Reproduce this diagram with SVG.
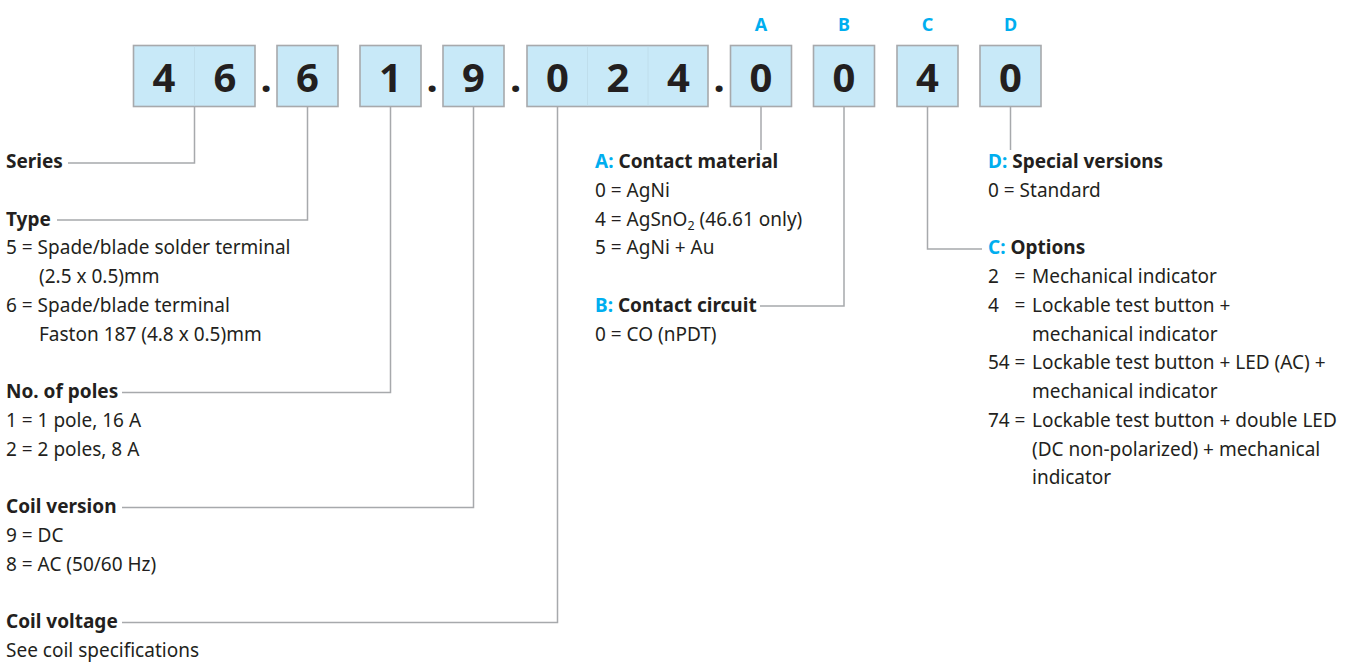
<svg xmlns="http://www.w3.org/2000/svg" width="1358" height="666" viewBox="0 0 1358 666">
<style>
.box{fill:#c8e9f8;stroke:#a7a9ac;stroke-width:1.6}
.div{stroke:#bcdbe8;stroke-width:0.8}
.dig{font-family:"Noto Sans","Open Sans",sans-serif;font-weight:700;font-size:40px;fill:#231f20;text-anchor:middle}
.dot{font-family:"Noto Sans","Open Sans",sans-serif;font-weight:700;font-size:40px;fill:#231f20;text-anchor:middle}
.let{font-family:"Noto Sans","Open Sans",sans-serif;font-weight:700;font-size:18px;fill:#00aeef;text-anchor:middle}
.h{font-family:"Noto Sans","Open Sans",sans-serif;font-weight:700;font-size:19px;fill:#231f20}
.t{font-family:"Noto Sans","Open Sans",sans-serif;font-size:19px;fill:#231f20}
.b{fill:#00aeef}
.con{fill:none;stroke:#a7a9ac;stroke-width:1.5}
</style>
<rect width="1358" height="666" fill="#ffffff"/>
<g id="code">
<g id="box-46"><rect class="box" x="133.5" y="45.5" width="121.5" height="61"/><line class="div" x1="194.5" y1="46.5" x2="194.5" y2="105.5"/><text class="dig" x="164" y="92">4</text><text class="dig" x="225" y="92">6</text></g>
<text class="dot" x="266" y="92">.</text>
<g id="box-6"><rect class="box" x="277" y="45.5" width="61" height="61"/><text class="dig" x="307.5" y="92">6</text></g>
<g id="box-1"><rect class="box" x="360" y="45.5" width="61" height="61"/><text class="dig" x="390.5" y="92">1</text></g>
<text class="dot" x="432" y="92">.</text>
<g id="box-9"><rect class="box" x="443" y="45.5" width="61" height="61"/><text class="dig" x="473.5" y="92">9</text></g>
<text class="dot" x="515.5" y="92">.</text>
<g id="box-024"><rect class="box" x="527" y="45.5" width="181" height="61"/><line class="div" x1="587.5" y1="46.5" x2="587.5" y2="105.5"/><line class="div" x1="648" y1="46.5" x2="648" y2="105.5"/><text class="dig" x="557.5" y="92">0</text><text class="dig" x="618" y="92">2</text><text class="dig" x="678.5" y="92">4</text></g>
<text class="dot" x="719" y="92">.</text>
<g id="box-A"><rect class="box" x="730.5" y="45.5" width="61" height="61"/><text class="dig" x="761" y="92">0</text><text class="let" x="761" y="31">A</text></g>
<g id="box-B"><rect class="box" x="813.5" y="45.5" width="61" height="61"/><text class="dig" x="844" y="92">0</text><text class="let" x="844" y="31">B</text></g>
<g id="box-C"><rect class="box" x="897" y="45.5" width="61" height="61"/><text class="dig" x="927.5" y="92">4</text><text class="let" x="927.5" y="31">C</text></g>
<g id="box-D"><rect class="box" x="980" y="45.5" width="61" height="61"/><text class="dig" x="1010.5" y="92">0</text><text class="let" x="1010.5" y="31">D</text></g>
</g>
<g id="connectors">
<polyline class="con" points="194.5,106.5 194.5,163 68,163"/>
<polyline class="con" points="307.5,106.5 307.5,220 57,220"/>
<polyline class="con" points="390.5,106.5 390.5,392.5 122,392.5"/>
<polyline class="con" points="473.5,106.5 473.5,507.5 122,507.5"/>
<polyline class="con" points="557.5,106.5 557.5,622.5 122,622.5"/>
<polyline class="con" points="761,106.5 761,150"/>
<polyline class="con" points="844,106.5 844,306 760,306"/>
<polyline class="con" points="927.5,106.5 927.5,249 982,249"/>
<polyline class="con" points="1010.5,106.5 1010.5,150"/>
</g>
<g id="series"><text class="h" x="6" y="168">Series</text></g>
<g id="type">
<text class="h" x="6" y="225.5">Type</text>
<text class="t" x="6" y="254.25">5 = Spade/blade solder terminal</text>
<text class="t" x="39" y="283">(2.5 x 0.5)mm</text>
<text class="t" x="6" y="311.75">6 = Spade/blade terminal</text>
<text class="t" x="39" y="340.5">Faston 187 (4.8 x 0.5)mm</text>
</g>
<g id="poles">
<text class="h" x="6" y="398">No. of poles</text>
<text class="t" x="6" y="426.75">1 = 1 pole, 16 A</text>
<text class="t" x="6" y="455.5">2 = 2 poles, 8 A</text>
</g>
<g id="coil-version">
<text class="h" x="6" y="513">Coil version</text>
<text class="t" x="6" y="541.75">9 = DC</text>
<text class="t" x="6" y="570.5">8 = AC (50/60 Hz)</text>
</g>
<g id="coil-voltage">
<text class="h" x="6" y="628">Coil voltage</text>
<text class="t" x="6" y="656.75">See coil specifications</text>
</g>
<g id="contact-material">
<text class="h" x="595" y="168"><tspan class="b">A:</tspan> Contact material</text>
<text class="t" x="595" y="196.75">0 = AgNi</text>
<text class="t" x="595" y="225.5">4 = AgSnO<tspan font-size="12.5" dy="4">2</tspan><tspan dy="-4"> (46.61 only)</tspan></text>
<text class="t" x="595" y="254.25">5 = AgNi + Au</text>
</g>
<g id="contact-circuit">
<text class="h" x="595" y="311.75"><tspan class="b">B:</tspan> Contact circuit</text>
<text class="t" x="595" y="340.5">0 = CO (nPDT)</text>
</g>
<g id="special-versions">
<text class="h" x="988" y="168"><tspan class="b">D:</tspan> Special versions</text>
<text class="t" x="988" y="196.75">0 = Standard</text>
</g>
<g id="options">
<text class="h" x="988" y="254.25"><tspan class="b">C:</tspan> Options</text>
<text class="t" x="988" y="283">2</text><text class="t" x="1014.5" y="283">=</text><text class="t" x="1032" y="283">Mechanical indicator</text>
<text class="t" x="988" y="311.75">4</text><text class="t" x="1014.5" y="311.75">=</text><text class="t" x="1032" y="311.75">Lockable test button +</text>
<text class="t" x="1032" y="340.5">mechanical indicator</text>
<text class="t" x="988" y="369.25">54</text><text class="t" x="1014.5" y="369.25">=</text><text class="t" x="1032" y="369.25">Lockable test button + LED (AC) +</text>
<text class="t" x="1032" y="398">mechanical indicator</text>
<text class="t" x="988" y="426.75">74</text><text class="t" x="1014.5" y="426.75">=</text><text class="t" x="1032" y="426.75">Lockable test button + double LED</text>
<text class="t" x="1032" y="455.5">(DC non-polarized) + mechanical</text>
<text class="t" x="1032" y="484.25">indicator</text>
</g>
</svg>
